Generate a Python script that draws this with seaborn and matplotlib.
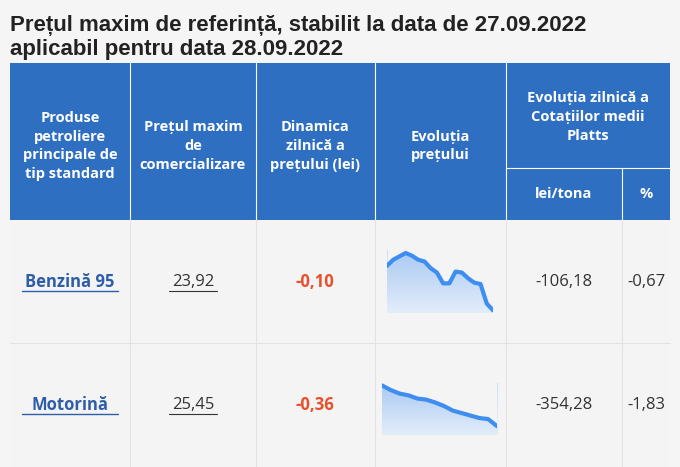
import matplotlib
matplotlib.use("Agg")
import matplotlib.pyplot as plt
from matplotlib.patches import Rectangle
import seaborn as sns
import numpy as np

sns.set_style("white")
plt.rcParams['font.family'] = ['Open Sans', 'DejaVu Sans']

title_lines = ["Prețul maxim de referință, stabilit la data de 27.09.2022",
               "aplicabil pentru data 28.09.2022"]
headers = ["Produse\npetroliere\nprincipale de\ntip standard", "Prețul maxim\nde\ncomercializare",
           "Dinamica\nzilnică a\nprețului (lei)", "Evoluția\nprețului"]
group_header = "Evoluția zilnică a\nCotațiilor medii\nPlatts"
sub_headers = ["lei/tona", "%"]
products = ["Benzină 95", "Motorină"]
prices = ["23,92", "25,45"]
dynamics = ["-0,10", "-0,36"]
platts_lei = ["-106,18", "-354,28"]
platts_pct = ["-0,67", "-1,83"]
# sparkline price history (relative levels)
spark_benzina = [140, 158, 168, 178, 170, 158, 153, 133, 120, 88, 88, 123, 120, 103, 90, 86, 28, 8]
spark_motorina = [140, 127, 117, 112, 103, 100, 92, 82, 69, 62, 55, 48, 45, 25]

W, H = 680, 467
fig = plt.figure(figsize=(W / 100, H / 100), dpi=100)
fig.patch.set_facecolor("#f5f5f5")
bg = fig.add_axes([0, 0, 1, 1])
bg.set_xlim(0, W)
bg.set_ylim(H, 0)
bg.axis("off")

blue = "#2f6fc1"
for i, line in enumerate(title_lines):
    bg.text(10, 26 + i * 24, line, fontsize=16, fontweight="bold", color="#222222",
            family=["Liberation Sans", "DejaVu Sans"], va="center")

cols = [10, 130, 256, 375, 506, 622, 670]
bg.add_patch(Rectangle((10, 63), 660, 157, color=blue, lw=0))
bg.add_patch(Rectangle((10, 220), 660, 247, color="#f4f4f4", lw=0))
for x in cols[1:-1]:
    top = 63 if x != 622 else 168
    bg.plot([x, x], [top, 220], color="white", lw=0.8)
    bg.plot([x, x], [220, H], color="#e2e2e2", lw=0.8)
bg.plot([506, 670], [168, 168], color="white", lw=0.8)
bg.plot([10, 670], [343, 343], color="#e2e2e2", lw=0.8)

for i, h in enumerate(headers):
    bg.text((cols[i] + cols[i + 1]) / 2, 146, h, ha="center", va="center", color="white",
            fontsize=10.5, fontweight="bold", linespacing=1.45)
bg.text(588, 117, group_header, ha="center", va="center", color="white",
        fontsize=10.5, fontweight="bold", linespacing=1.45)
bg.text(564, 194, sub_headers[0], ha="center", va="center", color="white", fontsize=10.5, fontweight="bold")
bg.text(646, 194, sub_headers[1], ha="center", va="center", color="white", fontsize=10.5, fontweight="bold")

row_y = [282, 405]
for r, y in enumerate(row_y):
    bg.text(70, y, products[r], ha="center", va="center", color="#2f5ea8", fontsize=12, fontweight="bold")
    bg.plot([22, 118], [y + 9, y + 9], color="#2f5ea8", lw=1)
    bg.text(193, y, prices[r], ha="center", va="center", color="#333333", fontsize=12)
    bg.plot([169, 217], [y + 9, y + 9], color="#333333", lw=0.8)
    bg.text(315, y, dynamics[r], ha="center", va="center", color="#e5512b", fontsize=12, fontweight="bold")
    bg.text(564, y, platts_lei[r], ha="center", va="center", color="#333333", fontsize=12)
    bg.text(646, y, platts_pct[r], ha="center", va="center", color="#333333", fontsize=12)

def spark(rect, vals):
    x0, y0, x1, y1 = rect
    ax = fig.add_axes([x0 / W, 1 - y1 / H, (x1 - x0) / W, (y1 - y0) / H])
    xs = np.arange(len(vals))
    grad = np.linspace(0, 1, 100).reshape(-1, 1)
    ax.imshow(grad, extent=[0, len(vals) - 1, 0, max(vals) * 1.05], aspect="auto",
              cmap=matplotlib.colors.LinearSegmentedColormap.from_list("g", ["#e3edfa", "#a9c9f2"]),
              origin="lower", zorder=0)
    ax.fill_between(xs, vals, max(vals) * 1.1, color="#f4f4f4", zorder=1, lw=0)
    sns.lineplot(x=xs, y=vals, ax=ax, color="#3d8ef0", lw=3, zorder=2)
    ax.set_xlim(0, len(vals) - 1)
    ax.set_ylim(0, max(vals) * 1.05)
    ax.axis("off")

spark((387, 250, 493, 313), spark_benzina)
spark((382, 383, 497, 435), spark_motorina)

fig.savefig("out.png", dpi=100, facecolor=fig.get_facecolor())
